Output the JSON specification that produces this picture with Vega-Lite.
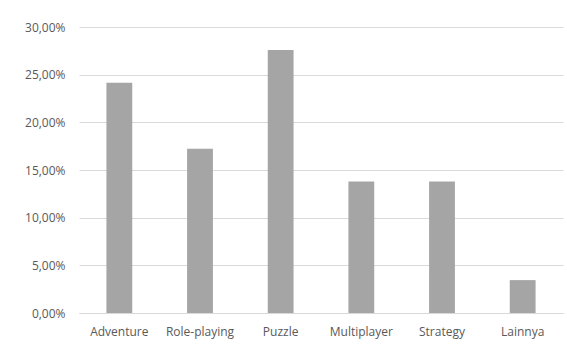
{
  "$schema": "https://vega.github.io/schema/vega-lite/v6.json",
  "width": 484,
  "height": 286,
  "autosize": {"type": "none"},
  "padding": {"left": 79, "top": 27, "right": 4, "bottom": 32},
  "background": "white",
  "config": {
    "locale": {"number": {"decimal": ",", "thousands": ".", "grouping": [3], "currency": ["", " €"]}},
    "view": {"stroke": null},
    "font": "Open Sans"
  },
  "data": {
    "values": [
      {"genre": "Adventure", "share": 0.2414},
      {"genre": "Role-playing", "share": 0.1724},
      {"genre": "Puzzle", "share": 0.2759},
      {"genre": "Multiplayer", "share": 0.1379},
      {"genre": "Strategy", "share": 0.1379},
      {"genre": "Lainnya", "share": 0.0345}
    ]
  },
  "mark": {"type": "bar", "color": "#a5a5a5"},
  "encoding": {
    "x": {
      "field": "genre",
      "type": "nominal",
      "sort": null,
      "scale": {"paddingInner": 0.68, "paddingOuter": 0.34},
      "axis": {
        "title": null,
        "labelAngle": 0,
        "labelFont": "Open Sans",
        "labelFontSize": 12,
        "labelColor": "#595959",
        "labelPadding": 13,
        "ticks": false,
        "domainColor": "#d9d9d9",
        "grid": false
      }
    },
    "y": {
      "field": "share",
      "type": "quantitative",
      "scale": {"domain": [0, 0.3]},
      "axis": {
        "title": null,
        "values": [0, 0.05, 0.1, 0.15, 0.2, 0.25, 0.3],
        "format": ".2%",
        "labelFont": "Open Sans",
        "labelFontSize": 12,
        "labelColor": "#595959",
        "labelPadding": 14,
        "ticks": false,
        "domain": false,
        "gridColor": "#d9d9d9"
      }
    }
  }
}
